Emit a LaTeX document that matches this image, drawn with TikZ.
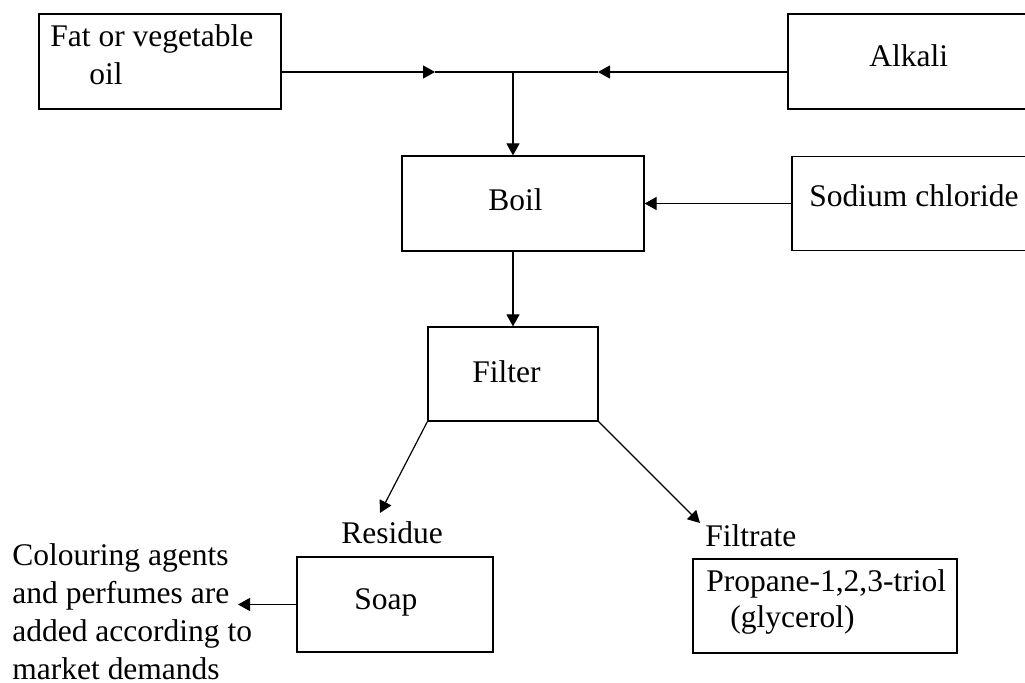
\documentclass[tikz,border=0pt]{standalone}
\usepackage{fontspec}
\setmainfont{Liberation Serif}
\usetikzlibrary{arrows.meta}
\tikzset{
  box/.style={draw, line width=0.6pt, inner sep=0pt, rectangle},
  txt/.style={inner sep=0pt, anchor=base west, align=left, font=\fontsize{15.75}{19}\selectfont},
  conn/.style={line width=0.6pt},
  arr/.style={conn, -{Triangle[length=6pt,width=6.5pt]}}
}
\begin{document}
\begin{tikzpicture}[x=0.5pt,y=-0.5pt]
\useasboundingbox (0,0) rectangle (1025,683);
\clip (0,0) rectangle (1025,683);
\fill[white] (0,0) rectangle (1025,683);
% boxes
\node[box, minimum width=121pt, minimum height=47.5pt] (fat) at (160,61.5) {};
\node[box, minimum width=126pt, minimum height=47.5pt] (alkali) at (914,61.5) {};
\node[box, minimum width=121pt, minimum height=47.5pt] (boil) at (523,203.5) {};
\node[box, minimum width=124pt, minimum height=47pt] (sodium) at (916,203.5) {};
\node[box, minimum width=85pt, minimum height=47pt] (filter) at (513,374) {};
\node[box, minimum width=98pt, minimum height=47.5pt] (soap) at (395,604.5) {};
\node[box, minimum width=132pt, minimum height=47pt] (propane) at (825,606) {};
% texts (multi-line nodes: base = baseline of last line)
\node[txt] (fattxt) at (50,85) {Fat or vegetable\\\hspace*{19.5pt}oil};
\node[txt] (alktxt) at (869,67) {Alkali};
\node[txt] (boiltxt) at (488,211) {Boil};
\node[txt] (sodtxt) at (809,207) {Sodium chloride};
\node[txt] (filtxt) at (472,383) {Filter};
\node[txt] (restxt) at (341,544) {Residue};
\node[txt] (soaptxt) at (354,610) {Soap};
\node[txt] (filtratetxt) at (705,547) {Filtrate};
\node[txt] (proptxt) at (706,628) {Propane-1,2,3-triol\\[-1pt]\hspace*{12pt}(glycerol)};
\node[txt] (coltxt) at (12,680) {Colouring agents\\and perfumes are\\added according to\\market demands};
% coordinates
\coordinate (jn) at (513,72);
\coordinate (fatmid) at (435,72);
\coordinate (alkmid) at (598,72);
\coordinate (restip) at (380,513);
\coordinate (filtip) at (700,523);
\coordinate (coltip) at (238,604.5);
% connectors
\draw[arr] (fat.east |- jn) -- (fatmid);
\draw[conn] (fatmid) -- (jn);
\draw[arr] (alkali.west |- jn) -- (alkmid);
\draw[conn] (alkmid) -- (jn);
\draw[arr] (jn) -- (jn |- boil.north);
\draw[arr] (sodium.west) -- (sodium.west -| boil.east);
\draw[arr] (boil.south -| jn) -- (filter.north);
\draw[arr] (filter.south west) -- (restip);
\draw[arr] (filter.south east) -- (filtip);
\draw[arr] (soap.west) -- (coltip);
\end{tikzpicture}
\end{document}
